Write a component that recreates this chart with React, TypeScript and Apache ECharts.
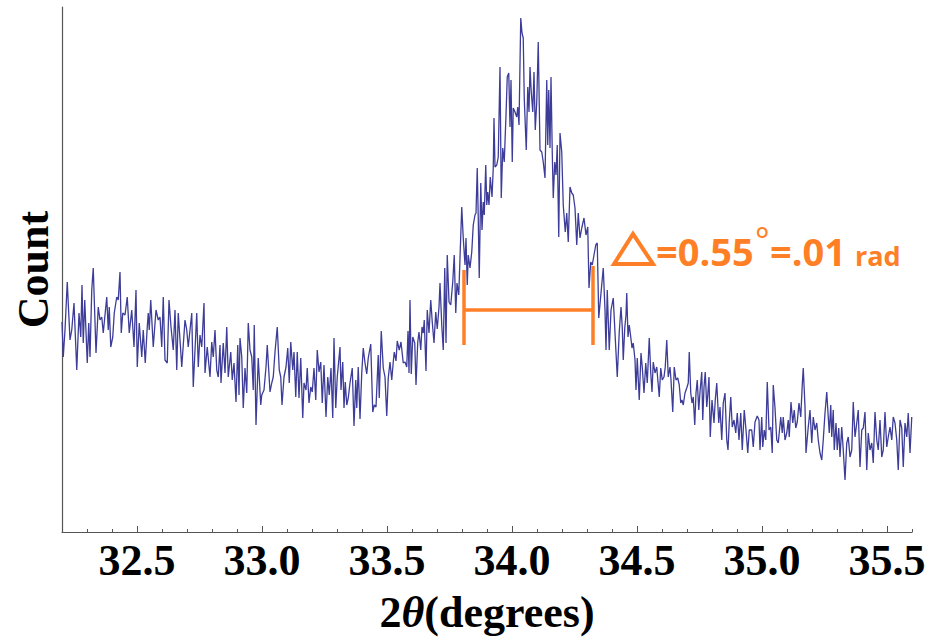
import React, { useEffect, useRef } from "react";
import * as echarts from "echarts";

// 2θ (degrees) and counts (arbitrary units)
const twoTheta: number[] = [
  32.200, 32.205, 32.212, 32.221, 32.232, 32.239, 32.248, 32.259, 32.268, 32.275,
  32.280, 32.285, 32.291, 32.301, 32.307, 32.312, 32.319, 32.325, 32.336, 32.345,
  32.352, 32.359, 32.365, 32.379, 32.385, 32.389, 32.395, 32.403, 32.409, 32.419,
  32.425, 32.432, 32.437, 32.443, 32.452, 32.461, 32.469, 32.479, 32.488, 32.496,
  32.501, 32.509, 32.519, 32.525, 32.533, 32.541, 32.545, 32.549, 32.555, 32.565,
  32.576, 32.585, 32.592, 32.599, 32.605, 32.612, 32.621, 32.628, 32.636, 32.645,
  32.652, 32.659, 32.665, 32.679, 32.692, 32.699, 32.705, 32.719, 32.725, 32.739,
  32.745,
  32.752, 32.759, 32.768, 32.772, 32.781, 32.792, 32.799, 32.805, 32.812, 32.819,
  32.825, 32.832, 32.836, 32.845, 32.852, 32.859, 32.865, 32.875, 32.881, 32.888,
  32.896, 32.903, 32.908, 32.912, 32.919, 32.925, 32.932, 32.939, 32.945, 32.952,
  32.959, 32.965, 32.969, 32.976, 32.985, 32.995, 32.999, 33.008, 33.016, 33.021,
  33.032, 33.039, 33.045, 33.052, 33.061, 33.069, 33.075, 33.080, 33.088, 33.096,
  33.103, 33.109, 33.115, 33.123, 33.128, 33.135, 33.141, 33.148, 33.155, 33.163,
  33.168, 33.176, 33.181, 33.188, 33.195, 33.201, 33.208, 33.215, 33.221, 33.228,
  33.235, 33.241, 33.248, 33.256, 33.263, 33.269, 33.276, 33.283, 33.288, 33.295,
  33.301,
  33.312, 33.316, 33.323, 33.328, 33.333, 33.339, 33.345, 33.352, 33.361, 33.368,
  33.375, 33.379, 33.385, 33.392, 33.399, 33.405, 33.412, 33.419, 33.425, 33.435,
  33.443, 33.449, 33.456, 33.465, 33.469, 33.477, 33.485, 33.492, 33.499, 33.505,
  33.512, 33.519, 33.525, 33.529, 33.536, 33.541, 33.549, 33.556, 33.565, 33.572,
  33.579, 33.584, 33.588, 33.592, 33.597, 33.603, 33.611, 33.616, 33.623, 33.628,
  33.635, 33.640, 33.645, 33.649, 33.656, 33.661, 33.668, 33.675, 33.681, 33.688,
  33.695, 33.701, 33.708, 33.712, 33.719, 33.725, 33.731, 33.736, 33.741, 33.748,
  33.755, 33.763, 33.769, 33.775, 33.780, 33.787,
  33.792, 33.799, 33.805, 33.812, 33.816, 33.821, 33.825, 33.832, 33.839, 33.845,
  33.852, 33.856, 33.861, 33.865, 33.869, 33.875, 33.880, 33.885, 33.889, 33.895,
  33.899, 33.903, 33.908, 33.913, 33.920, 33.925, 33.928, 33.932, 33.939, 33.945,
  33.952, 33.957, 33.963, 33.969, 33.976, 33.981, 33.987, 33.992, 33.996, 34.001,
  34.005, 34.012, 34.019, 34.023, 34.028, 34.035, 34.040, 34.045, 34.049, 34.057,
  34.063, 34.068, 34.072, 34.077, 34.083, 34.088, 34.093, 34.099, 34.105, 34.112,
  34.119, 34.125, 34.132, 34.139, 34.143, 34.147, 34.152, 34.156, 34.161, 34.165,
  34.171, 34.176, 34.181, 34.187, 34.192, 34.199, 34.205, 34.213, 34.219, 34.225,
  34.232, 34.239, 34.245, 34.252, 34.259, 34.265, 34.272, 34.279, 34.288, 34.296,
  34.303, 34.308, 34.315, 34.321, 34.328, 34.335, 34.341, 34.347,
  34.356, 34.365, 34.372, 34.376, 34.381, 34.389, 34.396, 34.405, 34.412, 34.421,
  34.429, 34.436, 34.441, 34.445, 34.451, 34.456, 34.459, 34.464, 34.469, 34.475,
  34.480, 34.485, 34.492, 34.496, 34.501, 34.509, 34.516, 34.521, 34.528, 34.535,
  34.541, 34.549, 34.555, 34.560, 34.565, 34.572, 34.579, 34.584, 34.589, 34.595,
  34.601, 34.608, 34.613, 34.619, 34.625, 34.632, 34.636, 34.643, 34.649, 34.656,
  34.663, 34.669, 34.675, 34.680, 34.685, 34.692, 34.699, 34.705, 34.709, 34.715,
  34.720, 34.725, 34.731, 34.736, 34.741, 34.747, 34.752, 34.759, 34.763, 34.768,
  34.773, 34.779, 34.783, 34.788, 34.793, 34.800, 34.808, 34.813, 34.819, 34.827,
  34.832, 34.839, 34.845, 34.852, 34.859, 34.864, 34.869, 34.875, 34.881, 34.888,
  34.895, 34.901, 34.908, 34.915, 34.921, 34.929, 34.936, 34.943, 34.949,
  34.959, 34.965, 34.972, 34.981, 34.988, 34.992, 34.999, 35.003, 35.009, 35.015,
  35.021, 35.028, 35.035, 35.041, 35.045, 35.052, 35.059, 35.065, 35.075, 35.081,
  35.085, 35.092, 35.099, 35.105, 35.109, 35.116, 35.123, 35.129, 35.135, 35.141,
  35.148, 35.155, 35.161, 35.165, 35.172, 35.176, 35.185, 35.192, 35.199, 35.205,
  35.212, 35.219, 35.225, 35.232, 35.239, 35.245, 35.252, 35.259, 35.265, 35.269,
  35.275, 35.279, 35.285, 35.289, 35.296, 35.301, 35.307, 35.312, 35.319, 35.325,
  35.332, 35.339, 35.345, 35.352, 35.359, 35.365, 35.372, 35.379, 35.385, 35.392,
  35.399, 35.405, 35.412, 35.419, 35.425, 35.432, 35.439, 35.445, 35.452, 35.459,
  35.465, 35.472, 35.479, 35.485, 35.492, 35.499, 35.505, 35.512, 35.519, 35.525,
  35.532, 35.539, 35.545, 35.552, 35.559, 35.565, 35.572, 35.579, 35.585, 35.592,
  35.599,
];

const counts: number[] = [
  210, 175, 202, 250, 192, 202, 229, 162, 219, 195,
  247, 189, 232, 169, 209, 175, 242, 264, 179, 225,
  212, 215, 199, 235, 202, 225, 185, 195, 219, 235,
  232, 260, 199, 219, 217, 235, 199, 222, 185, 242,
  165, 209, 175, 202, 169, 205, 219, 202, 232, 185,
  222, 212, 215, 185, 235, 172, 169, 232, 205, 182,
  222, 162, 219, 165, 212, 202, 185, 219, 145, 219,
  165,
  197, 185, 229, 159, 185, 155, 190, 175, 202, 162,
  155, 187, 149, 189, 159, 205, 155, 180, 152, 169,
  130, 187, 137, 194, 175, 124, 164, 139, 209, 182,
  175, 142, 207, 107, 174, 127, 137, 142, 165, 187,
  140, 149, 155, 180, 205, 162, 155, 127, 155, 165,
  184, 149, 190, 162, 180, 135, 180, 134, 174, 114,
  149, 142, 164, 129, 145, 140, 164, 132, 182, 160,
  170, 129, 167, 115, 155, 137, 164, 114, 194, 124,
  155,
  185, 142, 170, 124, 150, 127, 134, 149, 164, 106,
  152, 124, 165, 113, 159, 184, 169, 158, 174, 188,
  120, 127, 125, 177, 134, 201, 164, 155, 116, 154,
  170, 152, 170, 180, 171, 191, 182, 190, 169, 170,
  165, 201, 159, 232, 158, 195, 189, 147, 190, 200,
  182, 205, 199, 212, 161, 222, 199, 232, 210, 189,
  220, 203, 225, 249, 207, 182, 264, 189, 277, 230,
  227, 250, 277, 219, 249, 237,
  274, 325, 294, 267, 294, 247, 277, 264, 280, 307,
  317, 319, 364, 314, 254, 349, 302, 330, 317, 367,
  327, 340, 327, 355, 335, 364, 414, 365, 367, 375,
  465, 334, 384, 370, 417, 455, 459, 405, 452, 370,
  424, 420, 415, 425, 407, 514, 499, 494, 434, 382,
  445, 420, 465, 440, 420, 460, 402, 430, 490, 382,
  380, 370, 354, 452, 387, 442, 384, 455, 380, 334,
  370, 357, 387, 295, 399, 380, 327, 300, 319, 290,
  345, 339, 337, 324, 287, 319, 294, 304, 314, 297,
  305, 244, 270, 267, 277, 287, 289, 214,
  239, 264, 222, 182, 242, 182, 222, 234, 199, 155,
  200, 225, 205, 172, 204, 217, 239, 195, 207, 195,
  184, 189, 172, 142, 174, 132, 179, 165, 139, 169,
  149, 194, 159, 140, 170, 159, 165, 150, 135, 164,
  152, 155, 165, 192, 155, 165, 152, 120, 165, 152,
  154, 147, 129, 132, 127, 139, 144, 149, 180, 139,
  129, 135, 107, 139, 152, 122, 140, 160, 112, 145,
  160, 125, 137, 155, 95, 132, 109, 132, 149, 109,
  125, 92, 129, 139, 92, 82, 110, 135, 105, 112,
  99, 119, 92, 119, 82, 122, 102, 79, 102,
  102, 85, 110, 116, 112, 82, 115, 85, 102, 92,
  150, 102, 105, 79, 147, 124, 92, 89, 115, 99,
  115, 92, 99, 112, 95, 130, 109, 122, 104, 110,
  129, 115, 147, 164, 125, 79, 105, 122, 89, 115,
  102, 109, 92, 79, 72, 92, 119, 140, 115, 99,
  127, 95, 122, 82, 109, 82, 104, 75, 105, 82,
  52, 89, 95, 75, 82, 130, 95, 109, 122, 65,
  102, 104, 120, 62, 99, 82, 89, 69, 120, 92,
  82, 112, 75, 82, 120, 85, 95, 105, 92, 115,
  109, 92, 62, 112, 104, 65, 109, 95, 119, 79,
  115,
];

// x-axis tick labels
const majorTicks: number[] = [32.5, 33.0, 33.5, 34.0, 34.5, 35.0, 35.5];

// FWHM bracket (2θ positions and count levels)
const bracketX: number[] = [33.808, 34.324];
const bracketTop: number[] = [262, 266];
const bracketBottom = 187;
const bracketMid = 222;

const ORANGE = "#ff7f27";
const BLUE = "#3d3d99";
const AXIS = "#555555";

export default function App() {
  const ref = useRef<HTMLDivElement>(null);

  useEffect(() => {
    if (!ref.current) return;
    const chart = echarts.init(ref.current, null, { renderer: "svg" });
    const data = twoTheta.map((x, i) => [x, counts[i]]);
    const serifBold = {
      fontFamily: "Liberation Serif",
      fontWeight: "bold" as const,
      fontSize: 44,
      color: "#000",
    };
    chart.setOption({
      animation: false,
      backgroundColor: "#fff",
      grid: { left: 62, right: 17, top: 7, bottom: 111, containLabel: false },
      xAxis: [
        {
          type: "value",
          min: 32.2,
          max: 35.6,
          interval: 0.1,
          axisLine: { show: true, lineStyle: { color: AXIS, width: 1.2 } },
          axisTick: { show: true, inside: true, length: 3, lineStyle: { color: AXIS } },
          splitLine: { show: false },
          axisLabel: {
            show: true,
            customValues: majorTicks,
            formatter: (v: number) => v.toFixed(1),
            margin: 6,
            ...serifBold,
          },
          name: "{a|2}{b|θ}{a|(degrees)}",
          nameLocation: "middle",
          nameGap: 58,
          nameTextStyle: {
            rich: {
              a: { ...serifBold },
              b: { ...serifBold, fontStyle: "italic" },
            },
          },
        },
        {
          type: "value",
          min: 32.2,
          max: 35.6,
          position: "bottom",
          axisLine: { show: false },
          axisTick: {
            show: true,
            inside: true,
            length: 6,
            customValues: majorTicks,
            lineStyle: { color: AXIS },
          },
          axisLabel: { show: false },
          splitLine: { show: false },
        },
      ],
      yAxis: {
        type: "value",
        min: 0,
        max: 525,
        axisLine: { show: true, lineStyle: { color: AXIS, width: 1.2 } },
        axisTick: { show: false },
        axisLabel: { show: false },
        splitLine: { show: false },
        name: "Count",
        nameLocation: "middle",
        nameGap: 7,
        nameTextStyle: { ...serifBold },
      },
      series: [
        {
          type: "line",
          data,
          showSymbol: false,
          symbol: "none",
          lineStyle: { color: BLUE, width: 1.3 },
          z: 2,
        },
        {
          type: "line",
          data: [[bracketX[0], bracketTop[0]], [bracketX[0], bracketBottom]],
          symbol: "none",
          lineStyle: { color: ORANGE, width: 3.5 },
          z: 3,
        },
        {
          type: "line",
          data: [[bracketX[1], bracketTop[1]], [bracketX[1], bracketBottom]],
          symbol: "none",
          lineStyle: { color: ORANGE, width: 3.5 },
          z: 3,
        },
        {
          type: "line",
          data: [[bracketX[0], bracketMid], [bracketX[1], bracketMid]],
          symbol: "none",
          lineStyle: { color: ORANGE, width: 3.5 },
          z: 3,
        },
      ],
      graphic: [
        {
          type: "polygon",
          shape: { points: [[614, 264], [633, 234], [653, 264]] },
          style: { fill: "none", stroke: ORANGE, lineWidth: 4, lineJoin: "miter" },
        },
        {
          type: "text",
          x: 656,
          y: 251,
          style: {
            text: "=0.55",
            fill: ORANGE,
            font: "bold 38px 'Open Sans'",
            verticalAlign: "middle",
          },
        },
        {
          type: "text",
          x: 755,
          y: 240,
          style: {
            text: "°",
            fill: ORANGE,
            font: "34px 'Open Sans'",
            verticalAlign: "middle",
          },
        },
        {
          type: "text",
          x: 770,
          y: 251,
          style: {
            text: "=.01",
            fill: ORANGE,
            font: "bold 38px 'Open Sans'",
            verticalAlign: "middle",
          },
        },
        {
          type: "text",
          x: 855,
          y: 255,
          style: {
            text: "rad",
            fill: ORANGE,
            font: "bold 27px 'Open Sans'",
            verticalAlign: "middle",
          },
        },
      ],
    });
    return () => chart.dispose();
  }, []);

  return <div ref={ref} style={{ width: 929, height: 643, position: "absolute", left: 0, top: 0 }} />;
}
